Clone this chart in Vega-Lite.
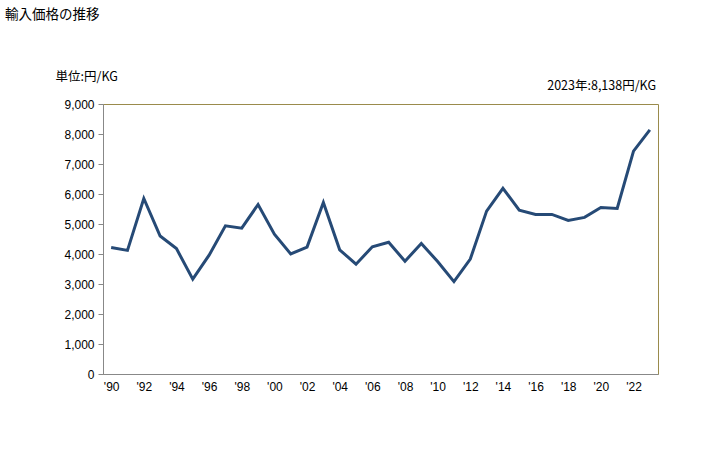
{
  "$schema": "https://vega.github.io/schema/vega-lite/v6.json",
  "autosize": {"type": "none"},
  "width": 555,
  "height": 270,
  "padding": {"left": 103, "top": 104, "right": 70, "bottom": 76},
  "background": "white",
  "config": {
    "font": "Liberation Sans",
    "view": {"stroke": "#9a8b4c", "strokeWidth": 1},
    "axis": {"labelOverlap": false}
  },
  "title": {
    "text": "輸入価格の推移",
    "anchor": "start",
    "frame": "group",
    "dx": -98,
    "offset": 49,
    "fontSize": 13.5,
    "fontWeight": "normal",
    "font": "Noto Sans CJK JP",
    "color": "#000000"
  },
  "data": {
    "values": [
      {"year": 1990, "value": 4220},
      {"year": 1991, "value": 4120},
      {"year": 1992, "value": 5850},
      {"year": 1993, "value": 4600},
      {"year": 1994, "value": 4180},
      {"year": 1995, "value": 3160},
      {"year": 1996, "value": 3960},
      {"year": 1997, "value": 4940},
      {"year": 1998, "value": 4860},
      {"year": 1999, "value": 5650},
      {"year": 2000, "value": 4660},
      {"year": 2001, "value": 4000},
      {"year": 2002, "value": 4230},
      {"year": 2003, "value": 5720},
      {"year": 2004, "value": 4140},
      {"year": 2005, "value": 3660},
      {"year": 2006, "value": 4240},
      {"year": 2007, "value": 4390},
      {"year": 2008, "value": 3760},
      {"year": 2009, "value": 4350},
      {"year": 2010, "value": 3750},
      {"year": 2011, "value": 3080},
      {"year": 2012, "value": 3830},
      {"year": 2013, "value": 5430},
      {"year": 2014, "value": 6190},
      {"year": 2015, "value": 5460},
      {"year": 2016, "value": 5320},
      {"year": 2017, "value": 5320},
      {"year": 2018, "value": 5120},
      {"year": 2019, "value": 5220},
      {"year": 2020, "value": 5550},
      {"year": 2021, "value": 5520},
      {"year": 2022, "value": 7430},
      {"year": 2023, "value": 8138}
    ]
  },
  "layer": [
    {
      "mark": {"type": "line", "color": "#264a76", "strokeWidth": 3},
      "encoding": {
        "x": {
          "field": "year",
          "type": "quantitative",
          "scale": {"domain": [1989.5, 2023.5], "nice": false, "zero": false},
          "axis": {
            "title": null,
            "tickCount": 17,
            "labelExpr": "\"'\" + substring(toString(datum.value), 2)",
            "labelOverlap": false,
            "ticks": false,
            "grid": false,
            "domainColor": "#888888",
            "labelPadding": 7,
            "labelFontSize": 12,
            "labelColor": "#000000",
            "labelFont": "Liberation Sans"
          }
        },
        "y": {
          "field": "value",
          "type": "quantitative",
          "scale": {"domain": [0, 9000], "nice": false},
          "axis": {
            "title": "単位:円/KG",
            "titleAngle": 0,
            "titleAlign": "left",
            "titleBaseline": "alphabetic",
            "titleX": -48,
            "titleY": -24,
            "titleFontSize": 12.5,
            "titleFontWeight": "normal",
            "titleFont": "Noto Sans CJK JP",
            "titleColor": "#000000",
            "tickCount": 9,
            "format": ",.0f",
            "labelOverlap": false,
            "grid": false,
            "tickSize": 5,
            "tickColor": "#888888",
            "domainColor": "#888888",
            "labelPadding": 4,
            "labelFontSize": 12,
            "labelColor": "#000000",
            "labelFont": "Liberation Sans"
          }
        }
      }
    },
    {
      "data": {"values": [{"label": "2023年:8,138円/KG", "year": 2023.5, "value": 9000}]},
      "mark": {"type": "text", "align": "right", "baseline": "alphabetic", "dy": -14, "dx": -2, "fontSize": 12.5, "font": "Noto Sans CJK JP", "color": "#000000"},
      "encoding": {
        "x": {"field": "year", "type": "quantitative"},
        "y": {"field": "value", "type": "quantitative"},
        "text": {"field": "label"}
      }
    }
  ]
}
